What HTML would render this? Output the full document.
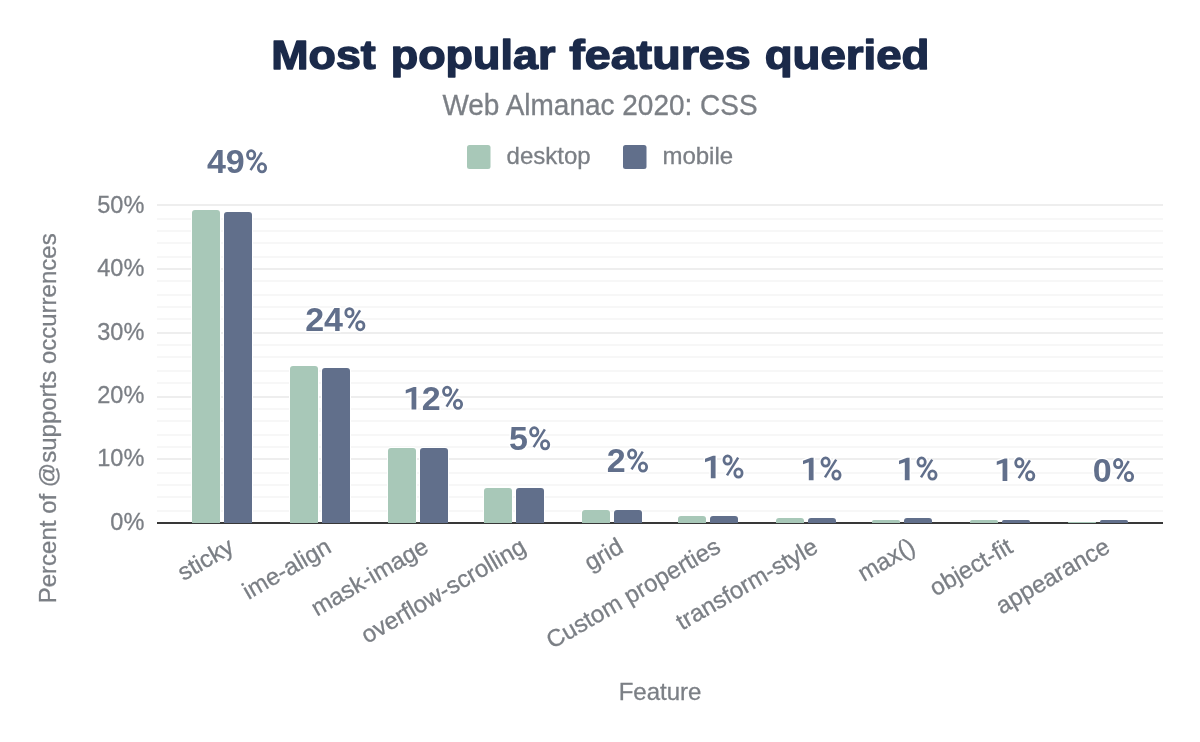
<!DOCTYPE html>
<html><head><meta charset="utf-8"><style>
html,body{margin:0;padding:0;background:#fff;width:1200px;height:742px;overflow:hidden;}
svg{display:block;will-change:transform;font-family:"Liberation Sans",sans-serif;}
</style></head><body>
<svg width="1200" height="742" viewBox="0 0 1200 742">
<rect width="1200" height="742" fill="#fff"/>
<rect x="157" y="510" width="1006" height="2" fill="#f7f7f7"/>
<rect x="157" y="496" width="1006" height="2" fill="#f7f7f7"/>
<rect x="157" y="484" width="1006" height="2" fill="#f7f7f7"/>
<rect x="157" y="472" width="1006" height="2" fill="#f7f7f7"/>
<rect x="157" y="458" width="1006" height="2" fill="#eeeeee"/>
<rect x="157" y="446" width="1006" height="2" fill="#f7f7f7"/>
<rect x="157" y="434" width="1006" height="2" fill="#f7f7f7"/>
<rect x="157" y="420" width="1006" height="2" fill="#f7f7f7"/>
<rect x="157" y="408" width="1006" height="2" fill="#f7f7f7"/>
<rect x="157" y="396" width="1006" height="2" fill="#eeeeee"/>
<rect x="157" y="382" width="1006" height="2" fill="#f7f7f7"/>
<rect x="157" y="370" width="1006" height="2" fill="#f7f7f7"/>
<rect x="157" y="356" width="1006" height="2" fill="#f7f7f7"/>
<rect x="157" y="344" width="1006" height="2" fill="#f7f7f7"/>
<rect x="157" y="332" width="1006" height="2" fill="#eeeeee"/>
<rect x="157" y="318" width="1006" height="2" fill="#f7f7f7"/>
<rect x="157" y="306" width="1006" height="2" fill="#f7f7f7"/>
<rect x="157" y="294" width="1006" height="2" fill="#f7f7f7"/>
<rect x="157" y="280" width="1006" height="2" fill="#f7f7f7"/>
<rect x="157" y="268" width="1006" height="2" fill="#eeeeee"/>
<rect x="157" y="256" width="1006" height="2" fill="#f7f7f7"/>
<rect x="157" y="242" width="1006" height="2" fill="#f7f7f7"/>
<rect x="157" y="230" width="1006" height="2" fill="#f7f7f7"/>
<rect x="157" y="218" width="1006" height="2" fill="#f7f7f7"/>
<rect x="157" y="204" width="1006" height="2" fill="#eeeeee"/>
<rect x="157" y="522" width="1006" height="2" fill="#383838"/>
<rect x="191" y="209" width="30" height="313.0" rx="4" fill="#fff"/>
<path d="M192,523.0 L192,213.00 Q192,210 195.00,210 L217.00,210 Q220,210 220,213.00 L220,523.0 Z" fill="#a8c8b8"/>
<rect x="223" y="211" width="30" height="311.0" rx="4" fill="#fff"/>
<path d="M224,523.0 L224,215.00 Q224,212 227.00,212 L249.00,212 Q252,212 252,215.00 L252,523.0 Z" fill="#616f8b"/>
<rect x="289" y="365" width="30" height="157.0" rx="4" fill="#fff"/>
<path d="M290,523.0 L290,369.00 Q290,366 293.00,366 L315.00,366 Q318,366 318,369.00 L318,523.0 Z" fill="#a8c8b8"/>
<rect x="321" y="367" width="30" height="155.0" rx="4" fill="#fff"/>
<path d="M322,523.0 L322,371.00 Q322,368 325.00,368 L347.00,368 Q350,368 350,371.00 L350,523.0 Z" fill="#616f8b"/>
<rect x="387" y="447" width="30" height="75.0" rx="4" fill="#fff"/>
<path d="M388,523.0 L388,451.00 Q388,448 391.00,448 L413.00,448 Q416,448 416,451.00 L416,523.0 Z" fill="#a8c8b8"/>
<rect x="419" y="447" width="30" height="75.0" rx="4" fill="#fff"/>
<path d="M420,523.0 L420,451.00 Q420,448 423.00,448 L445.00,448 Q448,448 448,451.00 L448,523.0 Z" fill="#616f8b"/>
<rect x="483" y="487" width="30" height="35.0" rx="4" fill="#fff"/>
<path d="M484,523.0 L484,491.00 Q484,488 487.00,488 L509.00,488 Q512,488 512,491.00 L512,523.0 Z" fill="#a8c8b8"/>
<rect x="515" y="487" width="30" height="35.0" rx="4" fill="#fff"/>
<path d="M516,523.0 L516,491.00 Q516,488 519.00,488 L541.00,488 Q544,488 544,491.00 L544,523.0 Z" fill="#616f8b"/>
<rect x="581" y="509" width="30" height="13.0" rx="4" fill="#fff"/>
<path d="M582,523.0 L582,513.00 Q582,510 585.00,510 L607.00,510 Q610,510 610,513.00 L610,523.0 Z" fill="#a8c8b8"/>
<rect x="613" y="509" width="30" height="13.0" rx="4" fill="#fff"/>
<path d="M614,523.0 L614,513.00 Q614,510 617.00,510 L639.00,510 Q642,510 642,513.00 L642,523.0 Z" fill="#616f8b"/>
<rect x="677" y="515" width="30" height="7.0" rx="4" fill="#fff"/>
<path d="M678,523.0 L678,519.00 Q678,516 681.00,516 L703.00,516 Q706,516 706,519.00 L706,523.0 Z" fill="#a8c8b8"/>
<rect x="709" y="515" width="30" height="7.0" rx="4" fill="#fff"/>
<path d="M710,523.0 L710,519.00 Q710,516 713.00,516 L735.00,516 Q738,516 738,519.00 L738,523.0 Z" fill="#616f8b"/>
<rect x="775" y="517" width="30" height="5.0" rx="4" fill="#fff"/>
<path d="M776,523.0 L776,521.00 Q776,518 779.00,518 L801.00,518 Q804,518 804,521.00 L804,523.0 Z" fill="#a8c8b8"/>
<rect x="807" y="517" width="30" height="5.0" rx="4" fill="#fff"/>
<path d="M808,523.0 L808,521.00 Q808,518 811.00,518 L833.00,518 Q836,518 836,521.00 L836,523.0 Z" fill="#616f8b"/>
<rect x="871" y="519" width="30" height="3.0" rx="2.8" fill="#fff"/>
<path d="M872,523.0 L872,521.80 Q872,520 873.80,520 L898.20,520 Q900,520 900,521.80 L900,523.0 Z" fill="#a8c8b8"/>
<rect x="903" y="517" width="30" height="5.0" rx="4" fill="#fff"/>
<path d="M904,523.0 L904,521.00 Q904,518 907.00,518 L929.00,518 Q932,518 932,521.00 L932,523.0 Z" fill="#616f8b"/>
<rect x="969" y="519" width="30" height="3.0" rx="2.8" fill="#fff"/>
<path d="M970,523.0 L970,521.80 Q970,520 971.80,520 L996.20,520 Q998,520 998,521.80 L998,523.0 Z" fill="#a8c8b8"/>
<rect x="1001" y="519" width="30" height="3.0" rx="2.8" fill="#fff"/>
<path d="M1002,523.0 L1002,521.80 Q1002,520 1003.80,520 L1028.20,520 Q1030,520 1030,521.80 L1030,523.0 Z" fill="#616f8b"/>
<rect x="1067" y="521" width="30" height="1.0" rx="1.6" fill="#fff"/>
<path d="M1068,523.0 L1068,522.60 Q1068,522 1068.60,522 L1095.40,522 Q1096,522 1096,522.60 L1096,523.0 Z" fill="#a8c8b8"/>
<rect x="1099" y="519" width="30" height="3.0" rx="2.8" fill="#fff"/>
<path d="M1100,523.0 L1100,521.80 Q1100,520 1101.80,520 L1126.20,520 Q1128,520 1128,521.80 L1128,523.0 Z" fill="#616f8b"/>
<g font-weight="bold" font-size="34"><g fill="#fff" stroke="#fff" stroke-width="3" stroke-linejoin="round"><text x="216.45" y="173.00" text-anchor="middle">4</text><text x="235.25" y="173.00" text-anchor="middle">9</text></g><g fill="#616f8b"><text x="216.45" y="173.00" text-anchor="middle">4</text><text x="235.25" y="173.00" text-anchor="middle">9</text></g></g><g transform="translate(246.15,173.00)" fill="none" stroke-linecap="butt"><g stroke="#fff" stroke-width="5.8"><ellipse cx="5.0" cy="-18.2" rx="3.65" ry="4.1"/><ellipse cx="15.85" cy="-5.2" rx="3.65" ry="4.1"/><line x1="15.6" y1="-20.6" x2="4.4" y2="-2.8"/></g><g stroke="#616f8b" stroke-width="2.8"><ellipse cx="5.0" cy="-18.2" rx="3.65" ry="4.1"/><ellipse cx="15.85" cy="-5.2" rx="3.65" ry="4.1"/><line stroke-width="2.5" x1="15.6" y1="-20.6" x2="4.4" y2="-2.8"/></g></g>
<g font-weight="bold" font-size="34"><g fill="#fff" stroke="#fff" stroke-width="3" stroke-linejoin="round"><text x="314.75" y="330.90" text-anchor="middle">2</text><text x="333.55" y="330.90" text-anchor="middle">4</text></g><g fill="#616f8b"><text x="314.75" y="330.90" text-anchor="middle">2</text><text x="333.55" y="330.90" text-anchor="middle">4</text></g></g><g transform="translate(344.45,330.90)" fill="none" stroke-linecap="butt"><g stroke="#fff" stroke-width="5.8"><ellipse cx="5.0" cy="-18.2" rx="3.65" ry="4.1"/><ellipse cx="15.85" cy="-5.2" rx="3.65" ry="4.1"/><line x1="15.6" y1="-20.6" x2="4.4" y2="-2.8"/></g><g stroke="#616f8b" stroke-width="2.8"><ellipse cx="5.0" cy="-18.2" rx="3.65" ry="4.1"/><ellipse cx="15.85" cy="-5.2" rx="3.65" ry="4.1"/><line stroke-width="2.5" x1="15.6" y1="-20.6" x2="4.4" y2="-2.8"/></g></g>
<g font-weight="bold" font-size="34"><g fill="#fff" stroke="#fff" stroke-width="3" stroke-linejoin="round"><path transform="translate(411.56,409.50)" d="M-5.8,-19.4 L2.2,-22.6 L4.75,-22.6 L4.75,0 L0,0 L0,-18.0 L-5.8,-16.0 Z"/><text x="431.24" y="409.50" text-anchor="middle">2</text></g><g fill="#616f8b"><path transform="translate(411.56,409.50)" d="M-5.8,-19.4 L2.2,-22.6 L4.75,-22.6 L4.75,0 L0,0 L0,-18.0 L-5.8,-16.0 Z"/><text x="431.24" y="409.50" text-anchor="middle">2</text></g></g><g transform="translate(442.14,409.50)" fill="none" stroke-linecap="butt"><g stroke="#fff" stroke-width="5.8"><ellipse cx="5.0" cy="-18.2" rx="3.65" ry="4.1"/><ellipse cx="15.85" cy="-5.2" rx="3.65" ry="4.1"/><line x1="15.6" y1="-20.6" x2="4.4" y2="-2.8"/></g><g stroke="#616f8b" stroke-width="2.8"><ellipse cx="5.0" cy="-18.2" rx="3.65" ry="4.1"/><ellipse cx="15.85" cy="-5.2" rx="3.65" ry="4.1"/><line stroke-width="2.5" x1="15.6" y1="-20.6" x2="4.4" y2="-2.8"/></g></g>
<g font-weight="bold" font-size="34"><g fill="#fff" stroke="#fff" stroke-width="3" stroke-linejoin="round"><text x="518.35" y="450.00" text-anchor="middle">5</text></g><g fill="#616f8b"><text x="518.35" y="450.00" text-anchor="middle">5</text></g></g><g transform="translate(529.25,450.00)" fill="none" stroke-linecap="butt"><g stroke="#fff" stroke-width="5.8"><ellipse cx="5.0" cy="-18.2" rx="3.65" ry="4.1"/><ellipse cx="15.85" cy="-5.2" rx="3.65" ry="4.1"/><line x1="15.6" y1="-20.6" x2="4.4" y2="-2.8"/></g><g stroke="#616f8b" stroke-width="2.8"><ellipse cx="5.0" cy="-18.2" rx="3.65" ry="4.1"/><ellipse cx="15.85" cy="-5.2" rx="3.65" ry="4.1"/><line stroke-width="2.5" x1="15.6" y1="-20.6" x2="4.4" y2="-2.8"/></g></g>
<g font-weight="bold" font-size="34"><g fill="#fff" stroke="#fff" stroke-width="3" stroke-linejoin="round"><text x="616.25" y="472.25" text-anchor="middle">2</text></g><g fill="#616f8b"><text x="616.25" y="472.25" text-anchor="middle">2</text></g></g><g transform="translate(627.15,472.25)" fill="none" stroke-linecap="butt"><g stroke="#fff" stroke-width="5.8"><ellipse cx="5.0" cy="-18.2" rx="3.65" ry="4.1"/><ellipse cx="15.85" cy="-5.2" rx="3.65" ry="4.1"/><line x1="15.6" y1="-20.6" x2="4.4" y2="-2.8"/></g><g stroke="#616f8b" stroke-width="2.8"><ellipse cx="5.0" cy="-18.2" rx="3.65" ry="4.1"/><ellipse cx="15.85" cy="-5.2" rx="3.65" ry="4.1"/><line stroke-width="2.5" x1="15.6" y1="-20.6" x2="4.4" y2="-2.8"/></g></g>
<g font-weight="bold" font-size="34"><g fill="#fff" stroke="#fff" stroke-width="3" stroke-linejoin="round"><path transform="translate(710.81,478.25)" d="M-5.8,-19.4 L2.2,-22.6 L4.75,-22.6 L4.75,0 L0,0 L0,-18.0 L-5.8,-16.0 Z"/></g><g fill="#616f8b"><path transform="translate(710.81,478.25)" d="M-5.8,-19.4 L2.2,-22.6 L4.75,-22.6 L4.75,0 L0,0 L0,-18.0 L-5.8,-16.0 Z"/></g></g><g transform="translate(722.59,478.25)" fill="none" stroke-linecap="butt"><g stroke="#fff" stroke-width="5.8"><ellipse cx="5.0" cy="-18.2" rx="3.65" ry="4.1"/><ellipse cx="15.85" cy="-5.2" rx="3.65" ry="4.1"/><line x1="15.6" y1="-20.6" x2="4.4" y2="-2.8"/></g><g stroke="#616f8b" stroke-width="2.8"><ellipse cx="5.0" cy="-18.2" rx="3.65" ry="4.1"/><ellipse cx="15.85" cy="-5.2" rx="3.65" ry="4.1"/><line stroke-width="2.5" x1="15.6" y1="-20.6" x2="4.4" y2="-2.8"/></g></g>
<g font-weight="bold" font-size="34"><g fill="#fff" stroke="#fff" stroke-width="3" stroke-linejoin="round"><path transform="translate(808.81,480.25)" d="M-5.8,-19.4 L2.2,-22.6 L4.75,-22.6 L4.75,0 L0,0 L0,-18.0 L-5.8,-16.0 Z"/></g><g fill="#616f8b"><path transform="translate(808.81,480.25)" d="M-5.8,-19.4 L2.2,-22.6 L4.75,-22.6 L4.75,0 L0,0 L0,-18.0 L-5.8,-16.0 Z"/></g></g><g transform="translate(820.59,480.25)" fill="none" stroke-linecap="butt"><g stroke="#fff" stroke-width="5.8"><ellipse cx="5.0" cy="-18.2" rx="3.65" ry="4.1"/><ellipse cx="15.85" cy="-5.2" rx="3.65" ry="4.1"/><line x1="15.6" y1="-20.6" x2="4.4" y2="-2.8"/></g><g stroke="#616f8b" stroke-width="2.8"><ellipse cx="5.0" cy="-18.2" rx="3.65" ry="4.1"/><ellipse cx="15.85" cy="-5.2" rx="3.65" ry="4.1"/><line stroke-width="2.5" x1="15.6" y1="-20.6" x2="4.4" y2="-2.8"/></g></g>
<g font-weight="bold" font-size="34"><g fill="#fff" stroke="#fff" stroke-width="3" stroke-linejoin="round"><path transform="translate(904.81,480.25)" d="M-5.8,-19.4 L2.2,-22.6 L4.75,-22.6 L4.75,0 L0,0 L0,-18.0 L-5.8,-16.0 Z"/></g><g fill="#616f8b"><path transform="translate(904.81,480.25)" d="M-5.8,-19.4 L2.2,-22.6 L4.75,-22.6 L4.75,0 L0,0 L0,-18.0 L-5.8,-16.0 Z"/></g></g><g transform="translate(916.59,480.25)" fill="none" stroke-linecap="butt"><g stroke="#fff" stroke-width="5.8"><ellipse cx="5.0" cy="-18.2" rx="3.65" ry="4.1"/><ellipse cx="15.85" cy="-5.2" rx="3.65" ry="4.1"/><line x1="15.6" y1="-20.6" x2="4.4" y2="-2.8"/></g><g stroke="#616f8b" stroke-width="2.8"><ellipse cx="5.0" cy="-18.2" rx="3.65" ry="4.1"/><ellipse cx="15.85" cy="-5.2" rx="3.65" ry="4.1"/><line stroke-width="2.5" x1="15.6" y1="-20.6" x2="4.4" y2="-2.8"/></g></g>
<g font-weight="bold" font-size="34"><g fill="#fff" stroke="#fff" stroke-width="3" stroke-linejoin="round"><path transform="translate(1002.56,481.00)" d="M-5.8,-19.4 L2.2,-22.6 L4.75,-22.6 L4.75,0 L0,0 L0,-18.0 L-5.8,-16.0 Z"/></g><g fill="#616f8b"><path transform="translate(1002.56,481.00)" d="M-5.8,-19.4 L2.2,-22.6 L4.75,-22.6 L4.75,0 L0,0 L0,-18.0 L-5.8,-16.0 Z"/></g></g><g transform="translate(1014.34,481.00)" fill="none" stroke-linecap="butt"><g stroke="#fff" stroke-width="5.8"><ellipse cx="5.0" cy="-18.2" rx="3.65" ry="4.1"/><ellipse cx="15.85" cy="-5.2" rx="3.65" ry="4.1"/><line x1="15.6" y1="-20.6" x2="4.4" y2="-2.8"/></g><g stroke="#616f8b" stroke-width="2.8"><ellipse cx="5.0" cy="-18.2" rx="3.65" ry="4.1"/><ellipse cx="15.85" cy="-5.2" rx="3.65" ry="4.1"/><line stroke-width="2.5" x1="15.6" y1="-20.6" x2="4.4" y2="-2.8"/></g></g>
<g font-weight="bold" font-size="34"><g fill="#fff" stroke="#fff" stroke-width="3" stroke-linejoin="round"><text x="1102.25" y="481.75" text-anchor="middle">0</text></g><g fill="#616f8b"><text x="1102.25" y="481.75" text-anchor="middle">0</text></g></g><g transform="translate(1113.15,481.75)" fill="none" stroke-linecap="butt"><g stroke="#fff" stroke-width="5.8"><ellipse cx="5.0" cy="-18.2" rx="3.65" ry="4.1"/><ellipse cx="15.85" cy="-5.2" rx="3.65" ry="4.1"/><line x1="15.6" y1="-20.6" x2="4.4" y2="-2.8"/></g><g stroke="#616f8b" stroke-width="2.8"><ellipse cx="5.0" cy="-18.2" rx="3.65" ry="4.1"/><ellipse cx="15.85" cy="-5.2" rx="3.65" ry="4.1"/><line stroke-width="2.5" x1="15.6" y1="-20.6" x2="4.4" y2="-2.8"/></g></g>
<text transform="translate(144.3,529.80) scale(0.96,1)" text-anchor="end" font-size="24.5" fill="#7b7f85" stroke="#7b7f85" stroke-width="0.3">0%</text>
<text transform="translate(144.3,466.44) scale(0.96,1)" text-anchor="end" font-size="24.5" fill="#7b7f85" stroke="#7b7f85" stroke-width="0.3">10%</text>
<text transform="translate(144.3,403.08) scale(0.96,1)" text-anchor="end" font-size="24.5" fill="#7b7f85" stroke="#7b7f85" stroke-width="0.3">20%</text>
<text transform="translate(144.3,339.72) scale(0.96,1)" text-anchor="end" font-size="24.5" fill="#7b7f85" stroke="#7b7f85" stroke-width="0.3">30%</text>
<text transform="translate(144.3,276.36) scale(0.96,1)" text-anchor="end" font-size="24.5" fill="#7b7f85" stroke="#7b7f85" stroke-width="0.3">40%</text>
<text transform="translate(144.3,213.00) scale(0.96,1)" text-anchor="end" font-size="24.5" fill="#7b7f85" stroke="#7b7f85" stroke-width="0.3">50%</text>
<text transform="translate(235.50,551.3) rotate(-30)" text-anchor="end" font-size="24" fill="#7b7f85" stroke="#7b7f85" stroke-width="0.3">sticky</text>
<text transform="translate(332.83,551.3) rotate(-30)" text-anchor="end" font-size="24" fill="#7b7f85" stroke="#7b7f85" stroke-width="0.3">ime-align</text>
<text transform="translate(430.17,551.3) rotate(-30)" text-anchor="end" font-size="24" fill="#7b7f85" stroke="#7b7f85" stroke-width="0.3">mask-image</text>
<text transform="translate(527.50,551.3) rotate(-30)" text-anchor="end" font-size="24" fill="#7b7f85" stroke="#7b7f85" stroke-width="0.3">overflow-scrolling</text>
<text transform="translate(624.83,551.3) rotate(-30)" text-anchor="end" font-size="24" fill="#7b7f85" stroke="#7b7f85" stroke-width="0.3">grid</text>
<text transform="translate(722.16,551.3) rotate(-30)" text-anchor="end" font-size="24" fill="#7b7f85" stroke="#7b7f85" stroke-width="0.3">Custom properties</text>
<text transform="translate(819.50,551.3) rotate(-30)" text-anchor="end" font-size="24" fill="#7b7f85" stroke="#7b7f85" stroke-width="0.3">transform-style</text>
<text transform="translate(916.83,551.3) rotate(-30)" text-anchor="end" font-size="24" fill="#7b7f85" stroke="#7b7f85" stroke-width="0.3">max()</text>
<text transform="translate(1014.16,551.3) rotate(-30)" text-anchor="end" font-size="24" fill="#7b7f85" stroke="#7b7f85" stroke-width="0.3">object-fit</text>
<text transform="translate(1111.50,551.3) rotate(-30)" text-anchor="end" font-size="24" fill="#7b7f85" stroke="#7b7f85" stroke-width="0.3">appearance</text>
<g font-weight="bold" font-size="40" fill="#1b2a4a" stroke="#1b2a4a" stroke-width="1.4" stroke-linejoin="round"><text transform="translate(271.36,68.6) scale(1.1185,1)">Most</text><text transform="translate(390.75,68.6) scale(1.1228,1)">popular</text><text transform="translate(569.20,68.6) scale(1.1665,1)">features</text><text transform="translate(764.66,68.6) scale(1.1411,1)">queried</text></g>
<text transform="translate(600,114.9) scale(1,1.065)" text-anchor="middle" font-size="28" fill="#7b7f85" stroke="#7b7f85" stroke-width="0.3">Web Almanac 2020: CSS</text>
<rect x="467" y="145" width="23.5" height="24" rx="2.5" fill="#a8c8b8"/>
<text x="506.6" y="163.6" font-size="24" fill="#7b7f85" stroke="#7b7f85" stroke-width="0.3">desktop</text>
<rect x="623" y="145" width="23.5" height="24" rx="2.5" fill="#616f8b"/>
<text x="662.4" y="163.6" font-size="24" fill="#7b7f85" stroke="#7b7f85" stroke-width="0.3">mobile</text>
<text x="660" y="699.8" text-anchor="middle" font-size="24" fill="#7b7f85" stroke="#7b7f85" stroke-width="0.3">Feature</text>
<text transform="translate(56.3,418.3) rotate(-90)" text-anchor="middle" font-size="24" fill="#7b7f85" stroke="#7b7f85" stroke-width="0.3">Percent of @supports occurrences</text>
</svg>
</body></html>
